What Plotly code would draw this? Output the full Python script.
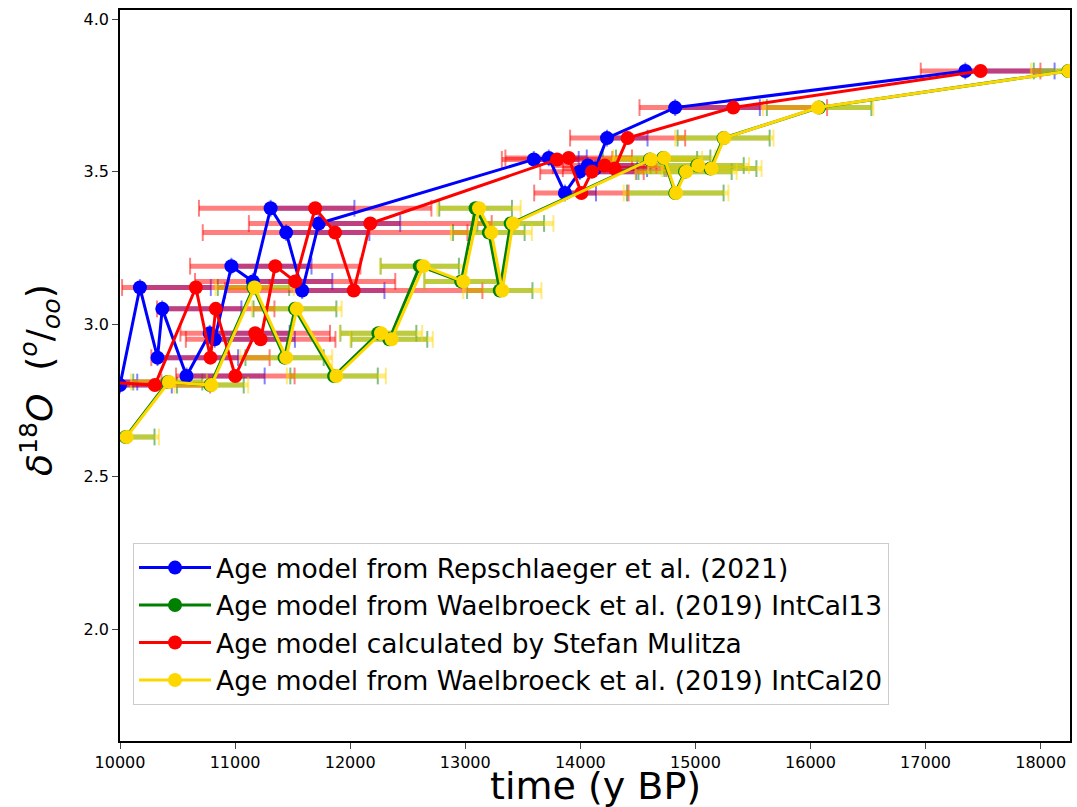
import plotly.graph_objects as go

# d18O values (same samples for all age models)
d18o = [2.63, 2.81, 2.80, 3.12, 2.89, 3.05, 2.83, 2.97, 2.95, 3.19, 3.14, 3.38,
        3.30, 3.11, 3.33, 3.54, 3.545, 3.43, 3.50, 3.52, 3.51, 3.61, 3.71, 3.83]

# Age models (y BP)
age_rep = [9200, 9450, 10000, 10173, 10326, 10367, 10578, 10780, 10823, 10968, 11155, 11309,
           11444, 11583, 11727, 13596, 13726, 13866, 13995, 14065, 14130, 14232, 14824, 17345]
err_rep = [700, 700, 450, 616, 700, 688, 679, 694, 697, 696, 690, 728,
           723, 715, 708, 390, 330, 270, 490, 430, 450, 352, 736, 776]

age_ic13 = [10050, 10415, 10785, 11160, 11430, 11520, 11860, 12245, 12340, 12605, 12965, 13090,
            13205, 13300, 13395, 14605, 14720, 14825, 14910, 15015, 15130, 15245, 16075, 18240]
err_ic13 = [250, 300, 290, 310, 340, 360, 380, 330, 330, 340, 320, 316,
            311, 284, 290, 410, 410, 420, 405, 405, 400, 400, 454, 300]

age_mul = [9450, 9880, 10303, 10659, 10786, 10832, 11002, 11175, 11222, 11349, 11522, 11696,
           11869, 12031, 12175, 13798, 13899, 14009, 14101, 14211, 14298, 14411, 15329, 17478]
err_mul = [450, 480, 480, 641, 514, 510, 515, 650, 650, 740, 870, 1010,
           1150, 1118, 1055, 480, 550, 410, 450, 450, 450, 500, 815, 520]

age_ic20 = [10058, 10425, 10794, 11170, 11444, 11536, 11880, 12268, 12360, 12637, 12984, 13120,
            13227, 13322, 13414, 14613, 14728, 14832, 14919, 15026, 15141, 15251, 16066, 18245]
err_ic20 = [280, 330, 320, 340, 400, 390, 430, 358, 358, 375, 340, 362,
            352, 340, 352, 445, 445, 455, 440, 440, 434, 427, 480, 330]

x_ticks = [10000, 11000, 12000, 13000, 14000, 15000, 16000, 17000, 18000]
x_tick_labels = ["10000", "11000", "12000", "13000", "14000", "15000", "16000", "17000", "18000"]
y_ticks = [2.0, 2.5, 3.0, 3.5, 4.0]
y_tick_labels = ["2.0", "2.5", "3.0", "3.5", "4.0"]

series = [
    ("Age model from Repschlaeger et al. (2021)", age_rep, err_rep, "one", (0, 0, 255), "#0000ff"),
    ("Age model from Waelbroeck et al. (2019) IntCal13", age_ic13, err_ic13, "sym", (0, 128, 0), "#008000"),
    ("Age model calculated by Stefan Mulitza", age_mul, err_mul, "sym", (255, 0, 0), "#ff0000"),
    ("Age model from Waelbroeck et al. (2019) IntCal20", age_ic20, err_ic20, "sym", (255, 215, 0), "#ffd700"),
]

fig = go.Figure()

# error bars first (underneath)
for name, ages, errs, kind, rgb, col in series:
    rgba = "rgba(%d,%d,%d,0.5)" % rgb
    minus = [0] * len(errs) if kind == "one" else errs
    fig.add_trace(go.Scatter(
        x=ages, y=d18o, mode="markers",
        marker=dict(size=1, color="rgba(0,0,0,0)"),
        error_x=dict(type="data", symmetric=False, array=errs, arrayminus=minus,
                     color=rgba, thickness=5, width=0),
        showlegend=False, hoverinfo="skip"))
    lo = [a - m for a, m in zip(ages, minus)]
    hi = [a + e for a, e in zip(ages, errs)]
    fig.add_trace(go.Scatter(
        x=lo + hi, y=d18o + d18o, mode="markers",
        marker=dict(symbol="line-ns", size=12, line=dict(width=2, color=rgba)),
        showlegend=False, hoverinfo="skip"))

for i, (name, ages, errs, kind, rgb, col) in enumerate(series):
    fig.add_trace(go.Scatter(
        x=ages, y=d18o, mode="lines+markers", name=name,
        line=dict(color=col, width=3),
        marker=dict(color=col, size=14),
        legendgroup="g%d" % i))

fig.update_layout(
    width=1077, height=807,
    margin=dict(l=120, r=5, t=10, b=66),
    paper_bgcolor="white", plot_bgcolor="white",
    font=dict(family="DejaVu Sans", color="black"),
    legend=dict(x=0.0137, y=0.271, xanchor="left", yanchor="top",
                bgcolor="rgba(255,255,255,0.8)", bordercolor="#cccccc", borderwidth=1,
                font=dict(size=26.5, family="DejaVu Sans"), itemwidth=72,
                traceorder="grouped", tracegroupgap=0),
    xaxis=dict(range=[10000, 18255], tickvals=x_ticks, ticktext=x_tick_labels,
               ticks="outside", ticklen=6,
               tickwidth=1.2, showline=True, mirror=True, linecolor="black", linewidth=1.5,
               showgrid=False, zeroline=False, tickfont=dict(size=16)),
    yaxis=dict(range=[1.633, 4.03], tickvals=y_ticks, ticktext=y_tick_labels, ticks="outside",
               ticklen=6, tickwidth=1.2, showline=True, mirror=True, linecolor="black",
               linewidth=1.5, showgrid=False, zeroline=False, tickfont=dict(size=16)),
    annotations=[
        dict(text="time (y BP)", xref="paper", yref="paper", x=0.5, y=-0.061,
             xanchor="center", yanchor="middle", showarrow=False, font=dict(size=38)),
        dict(text="<i>δ</i><sup>18</sup><i>O</i>\u00a0\u00a0(<sup><i>o</i></sup>/<sub><i>oo</i></sub>)",
             xref="paper", yref="paper", x=-0.084, y=0.494, textangle=-90,
             xanchor="center", yanchor="middle", showarrow=False, font=dict(size=36)),
    ],
)

fig.write_html("out.html", config={"displayModeBar": False},
               post_script="document.body.style.margin='0px';document.body.style.overflow='hidden';")
